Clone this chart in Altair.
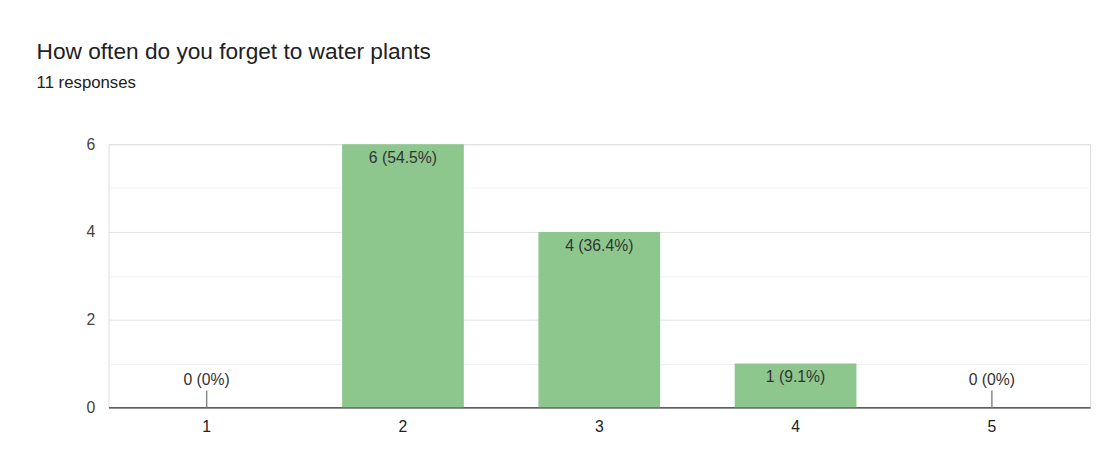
import altair as alt
import pandas as pd

ratings = ["1", "2", "3", "4", "5"]
counts = [0, 6, 4, 1, 0]
labels = ["0 (0%)", "6 (54.5%)", "4 (36.4%)", "1 (9.1%)", "0 (0%)"]

df = pd.DataFrame({"rating": ratings, "count": counts, "label": labels})

FONT = "Liberation Sans"

x = alt.X("rating:N", title=None, sort=ratings,
          scale=alt.Scale(paddingInner=0.38, paddingOuter=0.19),
          axis=alt.Axis(labelAngle=0, labelFontSize=16, labelColor="#222",
                        labelPadding=12, ticks=False, domainColor="#333",
                        domainWidth=1.2, grid=False))
y = alt.Y("count:Q", title=None,
          scale=alt.Scale(domain=[0, 6], nice=False),
          axis=alt.Axis(values=[0, 1, 2, 3, 4, 5, 6], ticks=False, domain=False,
                        labelExpr="datum.value % 2 == 0 ? datum.label : ''",
                        labelFontSize=16, labelColor="#444", labelPadding=14,
                        gridColor={"condition": {"test": "datum.value % 2 == 1", "value": "#f2f2f2"},
                                   "value": "#e3e3e3"}))

base = alt.Chart(df)
bars = base.mark_bar(color="#8dc78e").encode(x=x, y=y)
inside = base.transform_filter("datum.count > 0").mark_text(
    baseline="top", dy=6, fontSize=16, color="#333", font=FONT
).encode(x=x, y="count:Q", text="label:N")
zero = base.transform_filter("datum.count == 0")
zero_txt = zero.mark_text(baseline="bottom", dy=-20, fontSize=16, color="#333", font=FONT).encode(
    x=x, y="count:Q", text="label:N")
zero_tick = zero.mark_rule(color="#888", strokeWidth=1.5).encode(
    x=x, y="count:Q", y2=alt.value(250))

chart = (bars + inside + zero_tick + zero_txt).properties(
    width=996, height=267,
    autosize=alt.AutoSizeParams(type="none"),
    padding={"left": 102, "top": 135, "right": 2, "bottom": 40},
    title=alt.TitleParams("How often do you forget to water plants", subtitle="11 responses",
                          anchor="start", frame="group", dx=-73, offset=46,
                          fontSize=23, fontWeight="normal", color="#202124",
                          subtitleFontSize=17, subtitleColor="#202124",
                          subtitlePadding=12, font=FONT, subtitleFont=FONT),
).configure_view(stroke=None).configure(font=FONT)

chart.save("out.html", embed_options={"renderer": "svg", "actions": False})
